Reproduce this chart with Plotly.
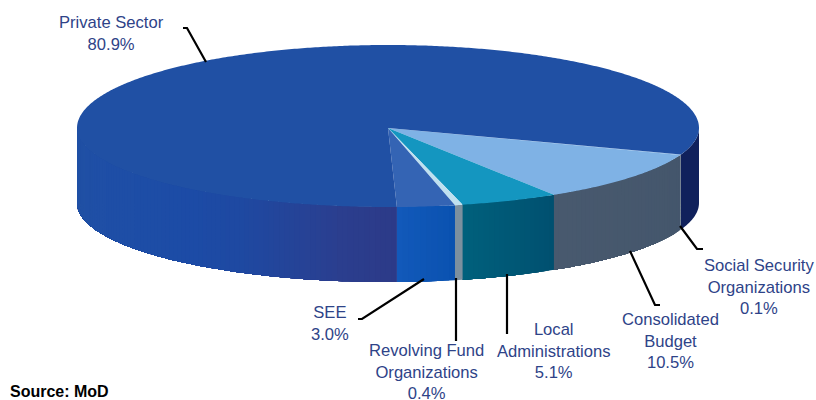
import math
import plotly.graph_objects as go

# Data
categories = ["Social Security<br>Organizations", "Consolidated<br>Budget", "Local<br>Administrations",
              "Revolving Fund<br>Organizations", "SEE", "Private Sector"]
shares = [0.1, 10.5, 5.1, 0.4, 3.0, 80.9]
value_labels = ["0.1%", "10.5%", "5.1%", "0.4%", "3.0%", "80.9%"]
top_colors = ["#7FB2E5", "#7FB2E5", "#1496C0", "#BFE0F0", "#3464B4", "#2050A4"]
side_colors = [["#5A6C7C", "#5A6C7C"], ["#44566C", "#48596E"], ["#005070", "#00607C"],
               ["#7C909F", "#7C909F"], ["#0A52B0", "#1259BA"],
               ["#2C3A88", "#2B3E8E", "#244499", "#1E49A2", "#1C4BA6", "#1D4DA6", "#1E4EA6", "#1F4FA6", "#2050A4", "#2050A6"]]
tail_side = "#10215C"

# Pie geometry (axis units = page pixels)
CX, CY, RX, RY_BACK, RY_FRONT, DEPTH, START = 388, 128, 311, 83, 79, 75, 19.6


def pt(t):
    a = math.radians(t)
    s = math.sin(a)
    return CX + RX * math.cos(a), CY + (RY_FRONT if s > 0 else RY_BACK) * s


def hexrgb(c):
    return tuple(int(c[i:i + 2], 16) for i in (1, 3, 5))


def ramp(stops, f):
    p = f * (len(stops) - 1)
    i = min(int(p), len(stops) - 2)
    a, b = hexrgb(stops[i]), hexrgb(stops[i + 1])
    k = p - i
    return "rgb(%d,%d,%d)" % tuple(round(a[j] + (b[j] - a[j]) * k) for j in range(3))


fig = go.Figure()


def poly(xs, ys, color):
    fig.add_trace(go.Scatter(x=xs, y=ys, mode="none", fill="toself", fillcolor=color,
                             hoverinfo="skip", showlegend=False))


def side(t0, t1, color):
    # wall segment from t0 to t1, following the rim
    n = max(1, int(t1 - t0))
    pts = [pt(t0 + (t1 - t0) * i / n) for i in range(n + 1)]
    xs = [p[0] for p in pts]
    ys = [p[1] for p in pts]
    poly(xs + xs[::-1] + [xs[0]], ys + [y + DEPTH for y in ys[::-1]] + [ys[0]], color)


spans = []
t = START
for v in shares:
    spans.append((t, t + v * 3.6))
    t += v * 3.6

# Side walls: only the front half is visible. Each strip runs to the end of its
# slice and the next one paints over it, so no seams show.
for (t0, t1), stops in zip(spans, side_colors):
    end = min(t1, 180)
    n = max(1, int(end - t0))
    for i in range(n):
        a = t0 + (end - t0) * i / n
        side(a, end, ramp(stops, (i + 0.5) / n))
side(0, START, tail_side)

# Top faces
for (t0, t1), col in zip(spans, top_colors):
    n = max(2, int((t1 - t0) * 2))
    pts = [pt(t0 + (t1 - t0) * i / n) for i in range(n + 1)]
    poly([CX] + [p[0] for p in pts] + [CX], [CY] + [p[1] for p in pts] + [CY], col)

# Leader lines
leaders = ["M680,226 L697,249 L703,249", "M630,251 L655,305 L660,305", "M507,274 L507,334",
           "M456,278 L456,341", "M424,279 L362,319 L358,319", "M206,62 L187,28 L183,28"]
shapes = [dict(type="path", path=p, line=dict(color="black", width=2.2), xref="x", yref="y") for p in leaders]

# Labels
centers = [(758.5, 287), (670, 341), (553, 351), (426, 372), (329.5, 323), (111.5, 33)]
annotations = [dict(x=x, y=y, text=f"{c}<br>{v}", showarrow=False, xanchor="center", yanchor="middle",
                    align="center", font=dict(family="Liberation Sans", size=16.6, color="#2E4388"))
               for (x, y), c, v in zip(centers, categories, value_labels)]
annotations.append(dict(x=8, y=391, text="<b>Source: MoD</b>", showarrow=False, xanchor="left", yanchor="middle",
                        font=dict(family="Liberation Sans", size=16, color="black")))

fig.update_layout(width=816, height=400, margin=dict(l=0, r=0, t=0, b=0), paper_bgcolor="white",
                  plot_bgcolor="white", showlegend=False, shapes=shapes, annotations=annotations,
                  xaxis=dict(range=[0, 816], visible=False, fixedrange=True),
                  yaxis=dict(range=[400, 0], visible=False, fixedrange=True))
fig.write_html("out.html", config={"displayModeBar": False},
               post_script="document.body.style.margin='0';document.body.style.overflow='hidden';")
